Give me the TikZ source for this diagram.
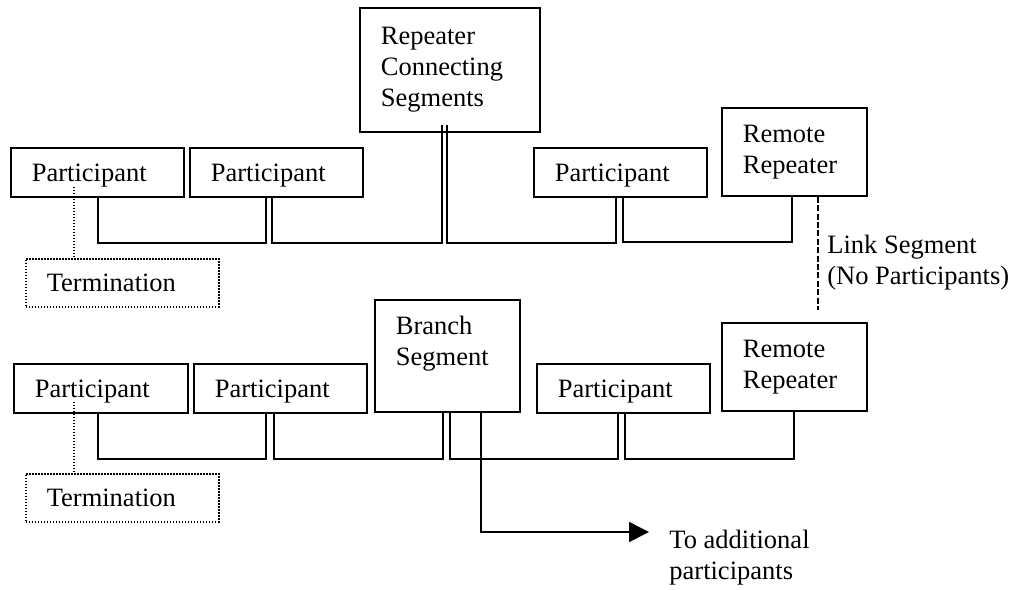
\documentclass[tikz,border=0pt]{standalone}
\usepackage{fontspec}
\setmainfont{Liberation Serif}
\usepackage{tikz}
\usetikzlibrary{arrows.meta,positioning}
\tikzset{
  box/.style 2 args={draw, line width=0.9pt, anchor=north west, align=left,
    inner xsep=10.5pt, inner ysep=0pt, text width=#1, minimum height=#2},
  part/.style={box={65.5pt}{24.5pt}, text depth=0pt},
  term/.style={box={75.5pt}{24pt}, text depth=0pt, line width=0.8pt, dash pattern=on 0.75pt off 0.75pt},
  bus/.style={line width=0.8pt},
  termline/.style={line width=0.8pt, dash pattern=on 0.75pt off 0.75pt},
  linkline/.style={line width=0.75pt, dash pattern=on 3pt off 1.2pt},
  note/.style={anchor=north west, inner sep=0pt, align=left}
}
\begin{document}
\begin{tikzpicture}[x=0.5pt,y=-0.5pt,font=\fontsize{13.25pt}{15.4pt}\selectfont]
\useasboundingbox (0,0) rectangle (1021,589);
\node[part] (p1) at (10,147) {Participant};
\node[part] (p2) at (189,147) {Participant};
\node[box={69pt}{62pt}] (rcs) at (359,7) {Repeater\\Connecting\\Segments};
\node[part] (p3) at (533,147) {Participant};
\node[box={51.5pt}{44pt}] (rr1) at (721,107) {Remote\\Repeater};
\node[term] (t1) at (25,258) {Termination};
\node[part, text width=66pt] (p4) at (13,363) {Participant};
\node[part] (p5) at (193,363) {Participant};
\node[box={51.5pt}{56pt}] (bs) at (374,299) {Branch\\Segment\\\mbox{}};
\node[part] (p6) at (536,363) {Participant};
\node[box={51.5pt}{44pt}] (rr2) at (721,322) {Remote\\Repeater};
\node[term] (t2) at (25,473) {Termination};
\node[note] (link) at (827,235) {Link Segment\\(No Participants)};
\node[note] (more) at (669,530) {To additional\\participants};
\coordinate (linkend) at (818,310);
\coordinate (tip) at (649,532);
\draw[bus] (p1.south -| 98,0) |- (266,243) -- (p2.south -| 266,0);
\draw[bus] (p2.south -| 272,0) |- (442,243) -- ([yshift=4pt]rcs.south -| 442,0);
\draw[bus] ([yshift=4pt]rcs.south -| 447,0) |- (616,243) -- (p3.south -| 616,0);
\draw[bus] (p3.south -| 623,0) |- (792,242) -- (rr1.south -| 792,0);
\draw[bus] (p4.south -| 98,0) |- (266,459) -- (p5.south -| 266,0);
\draw[bus] (p5.south -| 274,0) |- (443,459) -- (bs.south -| 443,0);
\draw[bus] (bs.south -| 450,0) |- (618,459) -- (p6.south -| 618,0);
\draw[bus] (p6.south -| 625,0) |- (794,459) -- (rr2.south -| 794,0);
\draw[bus, -{Triangle[length=10pt,width=10pt]}] (bs.south -| 481,0) |- (tip);
\draw[linkline] (rr1.south -| 818,0) -- (linkend);
\draw[termline] ([yshift=5.5pt]p1.south -| 74,0) -- (t1.north -| 74,0);
\draw[termline] ([yshift=6pt]p4.south -| 74,0) -- (t2.north -| 74,0);
\end{tikzpicture}
\end{document}
